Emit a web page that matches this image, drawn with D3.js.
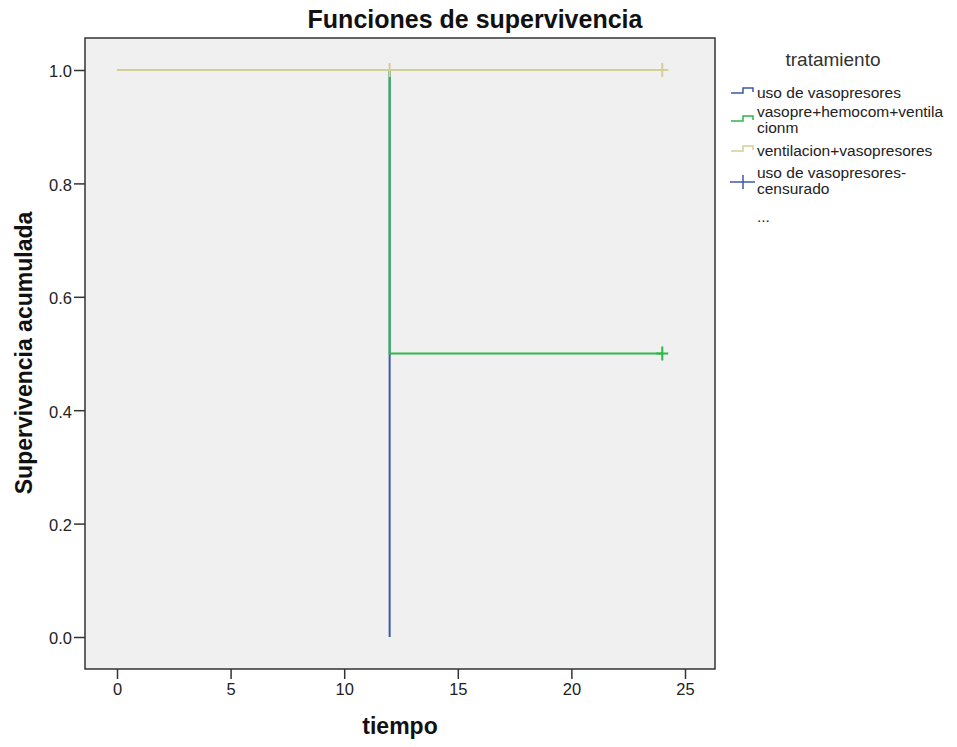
<!DOCTYPE html>
<html><head><meta charset="utf-8">
<script src="https://cdn.jsdelivr.net/npm/d3@7"></script>
<style>body{margin:0;background:#fff;} text{font-family:"Liberation Sans",Arial,sans-serif;}</style>
</head><body>
<svg id="chart" width="957" height="747"></svg>
<script>
const title = "Funciones de supervivencia";
const xLabel = "tiempo";
const yLabel = "Supervivencia acumulada";
const legendTitle = "tratamiento";
const categories = ["uso de vasopresores", "vasopre+hemocom+ventilacionm", "ventilacion+vasopresores"];
const colors = ["#3e58ac", "#2eb848", "#d3ce97"];
// step function points: [time, survival]
const seriesTimes = [[0, 12], [0, 12, 24], [0, 24]];
const seriesSurv = [[1.0, 0.0], [1.0, 0.5, 0.5], [1.0, 1.0]];
// censored observations
const censorSeries = [2, 2, 1];
const censorTimes = [12, 24, 24];
const censorSurv = [1.0, 1.0, 0.5];
const xTicks = [0, 5, 10, 15, 20, 25];
const yTicks = [0.0, 0.2, 0.4, 0.6, 0.8, 1.0];

const svg = d3.select("#chart");
const plot = {left: 85, top: 38, right: 715, bottom: 669};
const x = d3.scaleLinear().domain([0, 25]).range([117, 685]);
const y = d3.scaleLinear().domain([0, 1]).range([637, 70]);

svg.append("rect").attr("x", plot.left).attr("y", plot.top)
  .attr("width", plot.right - plot.left).attr("height", plot.bottom - plot.top)
  .attr("fill", "#f0f0f0");

const line = d3.line().x(d => x(d[0])).y(d => y(d[1])).curve(d3.curveStepAfter);
seriesTimes.forEach((ts, i) => {
  const pts = ts.map((t, j) => [t, seriesSurv[i][j]]);
  svg.append("path").attr("d", line(pts)).attr("fill", "none")
    .attr("stroke", colors[i]).attr("stroke-width", 2);
});
censorTimes.forEach((t, k) => {
  const cx = x(t), cy = y(censorSurv[k]);
  const g = svg.append("g").attr("stroke", colors[censorSeries[k]]).attr("stroke-width", 2);
  g.append("line").attr("x1", cx - 6).attr("x2", cx + 6).attr("y1", cy).attr("y2", cy);
  g.append("line").attr("x1", cx).attr("x2", cx).attr("y1", cy - 7).attr("y2", cy + 7);
});

svg.append("rect").attr("x", plot.left).attr("y", plot.top)
  .attr("width", plot.right - plot.left).attr("height", plot.bottom - plot.top)
  .attr("fill", "none").attr("stroke", "#333").attr("stroke-width", 1.5);

const xAxis = svg.append("g").attr("transform", `translate(0,${plot.bottom})`)
  .call(d3.axisBottom(x).tickValues(xTicks).tickSize(10).tickPadding(4).tickFormat(d3.format("d")));
xAxis.select(".domain").remove();
xAxis.selectAll("line").attr("stroke", "#333").attr("stroke-width", 1.5);
xAxis.selectAll("text").attr("font-size", 16.5).attr("fill", "#222").attr("font-family", "Liberation Sans, Arial, sans-serif");

const yAxis = svg.append("g").attr("transform", `translate(${plot.left},0)`)
  .call(d3.axisLeft(y).tickValues(yTicks).tickSize(11).tickPadding(2).tickFormat(d3.format(".1f")));
yAxis.select(".domain").remove();
yAxis.selectAll("line").attr("stroke", "#333").attr("stroke-width", 1.5);
yAxis.selectAll("text").attr("font-size", 16.5).attr("fill", "#222").attr("dy", "0.42em").attr("font-family", "Liberation Sans, Arial, sans-serif");

svg.append("text").attr("x", 475).attr("y", 28).attr("text-anchor", "middle")
  .attr("font-size", 25).attr("font-weight", "bold").attr("fill", "#111").text(title);
svg.append("text").attr("x", 400).attr("y", 734).attr("text-anchor", "middle")
  .attr("font-size", 23).attr("font-weight", "bold").attr("fill", "#111").text(xLabel);
svg.append("text").attr("transform", "translate(32,353) rotate(-90)").attr("text-anchor", "middle")
  .attr("font-size", 23).attr("font-weight", "bold").attr("fill", "#111").text(yLabel);

// legend
const leg = svg.append("g");
leg.append("text").attr("x", 833).attr("y", 66).attr("text-anchor", "middle")
  .attr("font-size", 19).attr("fill", "#333").text(legendTitle);
const legLines = [["uso de vasopresores"], ["vasopre+hemocom+ventila", "cionm"], ["ventilacion+vasopresores"]];
const iconY = [93, 121, 151];
const textY = [98, 117, 156];
legLines.forEach((ls, i) => {
  const yy = iconY[i];
  leg.append("path").attr("d", `M731,${yy}H743V${yy - 5}H753V${yy - 1}`)
    .attr("fill", "none").attr("stroke", colors[i]).attr("stroke-width", 1.5);
  ls.forEach((s, j) => leg.append("text").attr("x", 757).attr("y", textY[i] + j * 16)
    .attr("font-size", 15.5).attr("fill", "#222").text(s));
});
// censored legend item
leg.append("line").attr("x1", 730).attr("x2", 755).attr("y1", 182).attr("y2", 182)
  .attr("stroke", colors[0]).attr("stroke-width", 1.5);
leg.append("line").attr("x1", 743).attr("x2", 743).attr("y1", 175).attr("y2", 189)
  .attr("stroke", colors[0]).attr("stroke-width", 1.5);
["uso de vasopresores-", "censurado"].forEach((s, j) => leg.append("text")
  .attr("x", 757).attr("y", 178 + j * 16).attr("font-size", 15.5).attr("fill", "#222").text(s));
leg.append("text").attr("x", 757).attr("y", 222).attr("font-size", 15.5).attr("fill", "#222").text("...");
</script>
</body></html>
